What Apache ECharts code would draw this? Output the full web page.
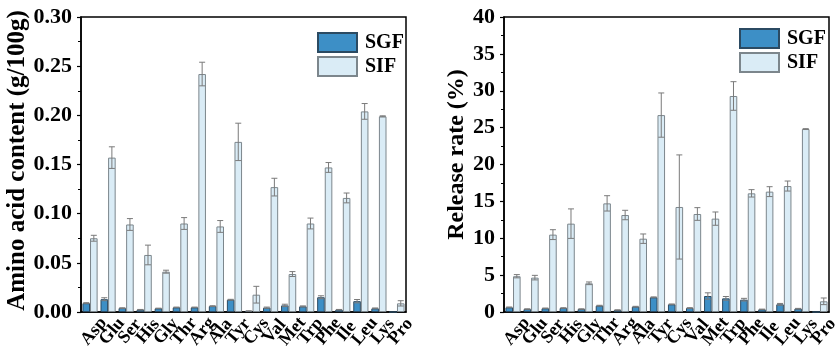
<!DOCTYPE html>
<html>
<head>
<meta charset="utf-8">
<script src="https://cdn.jsdelivr.net/npm/echarts@6/dist/echarts.min.js"></script>
<style>html,body{margin:0;padding:0;background:#fff}#c{width:835px;height:350px}</style>
</head>
<body>
<div id="c"></div>
<script>
const categories = ['Asp','Glu','Ser','His','Gly','Thr','Arg','Ala','Tyr','Cys','Val','Met','Trp','Phe','Ile','Leu','Lys','Pro'];

const contentSGF    = [0.009, 0.013, 0.004, 0.0024, 0.0037, 0.0047, 0.0047, 0.006, 0.0125, 0.001, 0.0044, 0.0067, 0.0057, 0.015, 0.0024, 0.011, 0.0037, 0];
const contentSGFErr = [0.0005, 0.0015, 0.0003, 0.0002, 0.0002, 0.0003, 0.0003, 0.0004, 0.0004, 0.0002, 0.0006, 0.0012, 0.0005, 0.0015, 0.0002, 0.0017, 0.0004, 0];
const contentSIF    = [0.075, 0.157, 0.089, 0.058, 0.041, 0.090, 0.242, 0.087, 0.173, 0.0176, 0.127, 0.0386, 0.090, 0.147, 0.116, 0.204, 0.199, 0.0088];
const contentSIFErr = [0.003, 0.011, 0.006, 0.010, 0.0015, 0.006, 0.012, 0.006, 0.019, 0.0085, 0.009, 0.0025, 0.0055, 0.005, 0.005, 0.008, 0.0005, 0.0027];

const releaseSGF    = [0.63, 0.40, 0.50, 0.54, 0.40, 0.86, 0.27, 0.72, 1.99, 1.04, 0.54, 2.17, 1.85, 1.67, 0.36, 1.04, 0.45, 0];
const releaseSGFErr = [0.05, 0.03, 0.04, 0.04, 0.03, 0.05, 0.02, 0.05, 0.06, 0.05, 0.05, 0.43, 0.25, 0.18, 0.03, 0.12, 0.04, 0];
const releaseSIF    = [4.85, 4.66, 10.49, 11.98, 3.89, 14.73, 13.15, 9.94, 26.7, 14.24, 13.29, 12.66, 29.29, 16.09, 16.32, 17.08, 24.81, 1.45];
const releaseSIFErr = [0.22, 0.31, 0.67, 2.0, 0.18, 1.04, 0.64, 0.64, 3.0, 7.06, 0.86, 0.9, 1.94, 0.5, 0.67, 0.68, 0.05, 0.45];

const leftTicks = {min: 0, max: 0.30, interval: 0.05};
const rightTicks = {min: 0, max: 40, interval: 5};

const FONT = 'Liberation Serif';
const BAR_FRAC = 0.42;
const SGF_STYLE = {color: '#3d8fc6', borderColor: '#2b4a62', borderWidth: 1};
const SIF_STYLE = {color: '#daecf6', borderColor: '#7c868c', borderWidth: 1};

function errSeries(idx, values, errs, sign) {
  return {
    type: 'custom',
    xAxisIndex: idx, yAxisIndex: idx,
    z: 5, silent: true,
    data: values.map((v, i) => [i, v, errs[i]]),
    encode: {x: 0, y: 1},
    renderItem: function (params, api) {
      const i = api.value(0), v = api.value(1), e = api.value(2);
      if (!e) return null;
      const band = api.size([1, 0])[0];
      const bw = band * BAR_FRAC;
      const cx = api.coord([i, 0])[0] + sign * bw / 2;
      const yt = api.coord([i, v + e])[1];
      const yb = api.coord([i, Math.max(v - e, 0)])[1];
      const cap = 3;
      const st = {stroke: '#7a7a7a', lineWidth: 1};
      return {type: 'group', children: [
        {type: 'line', shape: {x1: cx, y1: yt, x2: cx, y2: yb}, style: st},
        {type: 'line', shape: {x1: cx - cap, y1: yt, x2: cx + cap, y2: yt}, style: st},
        {type: 'line', shape: {x1: cx - cap, y1: yb, x2: cx + cap, y2: yb}, style: st}
      ]};
    }
  };
}

function xAxis(idx) {
  return {
    type: 'category', gridIndex: idx, data: categories,
    axisLine: {lineStyle: {color: '#000', width: 1.5}},
    axisTick: {alignWithLabel: true, length: 4, lineStyle: {color: '#000', width: 1.2}},
    axisLabel: {interval: 0, rotate: 50, align: 'center', margin: 24, padding: [0, 0, 0, 12],
      fontFamily: FONT, fontWeight: 'bold', fontSize: 18, color: '#000'}
  };
}

function yAxis(idx, ticks, name, nameGap, pad, labelFmt, nameSize) {
  return {
    type: 'value', gridIndex: idx, min: ticks.min, max: ticks.max, interval: ticks.interval,
    name: name, nameLocation: 'middle', nameGap: nameGap,
    nameTextStyle: {fontFamily: FONT, fontWeight: 'bold', fontSize: nameSize, color: '#000', padding: pad},
    axisLine: {show: true, lineStyle: {color: '#000', width: 1.5}},
    axisTick: {show: true, length: 4, lineStyle: {color: '#000', width: 1.2}},
    minorTick: {show: true, splitNumber: 2, length: 3, lineStyle: {color: '#000', width: 1}},
    splitLine: {show: false},
    axisLabel: {margin: 9, fontFamily: FONT, fontWeight: 'bold', fontSize: 22, color: '#000', formatter: labelFmt}
  };
}

function legend(idx, left, top) {
  return {
    orient: 'vertical', left: left, top: top, data: ['SGF', 'SIF'], padding: 0,
    icon: 'rect', itemWidth: 39, itemHeight: 19, itemGap: 3,
    textStyle: {fontFamily: FONT, fontWeight: 'bold', fontSize: 20, color: '#000', padding: [0, 0, 0, 3]},
    selectedMode: false
  };
}

const chart = echarts.init(document.getElementById('c'), null, {renderer: 'canvas'});
chart.setOption({
  animation: false,
  backgroundColor: '#fff',
  grid: [
    {left: 81, right: 429, top: 17, bottom: 38, containLabel: false, outerBoundsMode: 'none', show: true, borderColor: '#000', borderWidth: 1.5, backgroundColor: 'transparent'},
    {left: 504, right: 6, top: 17, bottom: 38, containLabel: false, outerBoundsMode: 'none', show: true, borderColor: '#000', borderWidth: 1.5, backgroundColor: 'transparent'}
  ],
  legend: [legend(0, 317, 32), legend(1, 739, 28)],
  xAxis: [xAxis(0), xAxis(1)],
  yAxis: [
    yAxis(0, leftTicks, 'Amino acid content (g/100g)', 48, [0, 0, 0, 8], v => v.toFixed(2), 25),
    yAxis(1, rightTicks, 'Release rate (%)', 33, [0, 0, 0, 20], v => String(v), 24)
  ],
  series: [
    {name: 'SGF', type: 'bar', xAxisIndex: 0, yAxisIndex: 0, data: contentSGF, barWidth: (BAR_FRAC*100)+'%', barGap: '0%', itemStyle: SGF_STYLE},
    {name: 'SIF', type: 'bar', xAxisIndex: 0, yAxisIndex: 0, data: contentSIF, barWidth: (BAR_FRAC*100)+'%', barGap: '0%', itemStyle: SIF_STYLE},
    {name: 'SGF', type: 'bar', xAxisIndex: 1, yAxisIndex: 1, data: releaseSGF, barWidth: (BAR_FRAC*100)+'%', barGap: '0%', itemStyle: SGF_STYLE},
    {name: 'SIF', type: 'bar', xAxisIndex: 1, yAxisIndex: 1, data: releaseSIF, barWidth: (BAR_FRAC*100)+'%', barGap: '0%', itemStyle: SIF_STYLE},
    errSeries(0, contentSGF, contentSGFErr, -1),
    errSeries(0, contentSIF, contentSIFErr, 1),
    errSeries(1, releaseSGF, releaseSGFErr, -1),
    errSeries(1, releaseSIF, releaseSIFErr, 1)
  ]
});
</script>
</body>
</html>
